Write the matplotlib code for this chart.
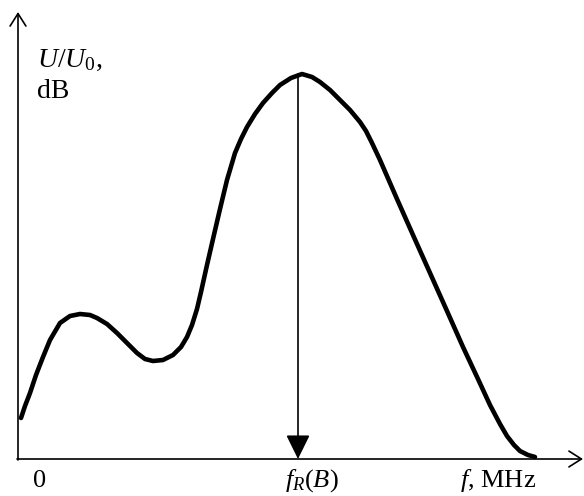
import matplotlib
matplotlib.use("Agg")
import matplotlib.pyplot as plt

plt.rcParams["font.family"] = ["Liberation Serif", "DejaVu Serif"]
plt.rcParams["mathtext.fontset"] = "custom"
plt.rcParams["mathtext.rm"] = "Liberation Serif"
plt.rcParams["mathtext.it"] = "Liberation Serif:italic"

# кривая U/U0 (произвольные единицы)
freq = [3, 7, 12, 18, 25, 32, 42, 52, 62, 72, 79, 89, 99, 109, 119, 127, 135,
        145, 155, 163, 169, 174, 179, 183, 189, 195, 202, 209, 217, 223, 229,
        237, 245, 254, 262, 273, 284, 294, 302, 312, 322, 332, 342, 348, 354,
        362, 379, 395, 412, 429, 445, 460, 472, 482, 489, 496, 502, 510, 517]
level = [41, 53, 66, 84, 102, 119, 136, 143, 145, 144, 141, 135, 126, 116,
         106, 100, 98, 99, 104, 112, 122, 134, 150, 167, 194, 220, 250, 279,
         306, 320, 332, 345, 356, 366, 374, 381, 385, 382, 377, 369, 359, 349,
         337, 328, 316, 299, 260, 224, 186, 148, 112, 80, 54, 35, 23, 14, 8,
         4, 2]

f_res = 280        # положение f_R(B)
f_max = 565        # конец оси f
u_max = 447        # конец оси U

fig = plt.figure(figsize=(5.84, 4.96), dpi=100)
ax = fig.add_axes([0, 0, 1, 1])
ax.set_xlim(-18, 566)
ax.set_ylim(-37, 459)
ax.axis("off")

# оси со стрелками
axis_arrow = dict(arrowstyle="->,head_length=0.6,head_width=0.38",
                  mutation_scale=15, lw=1.2, color="black",
                  shrinkA=0, shrinkB=0)
ax.annotate("", xy=(f_max, 0), xytext=(-1, 0), arrowprops=axis_arrow)
ax.annotate("", xy=(0, u_max), xytext=(0, -1), arrowprops=axis_arrow)

# кривая
ax.plot(freq, level, color="black", lw=3.3, solid_capstyle="round",
        solid_joinstyle="round")

# стрелка от максимума к оси
ax.annotate("", xy=(f_res, 0), xytext=(f_res, max(level)),
            arrowprops=dict(arrowstyle="-|>,head_length=0.75,head_width=0.37",
                            mutation_scale=20, lw=1.2, color="black",
                            shrinkA=0, shrinkB=0))

# подписи
ax.text(19, 392, r"$U/U_0$,", fontsize=20, ha="left", va="baseline")
ax.text(19, 361, "dB", fontsize=20, ha="left", va="baseline")
ax.text(22, -28, "0", fontsize=19, ha="center", va="baseline")
ax.text(f_res - 13, -28, r"$\mathit{f_R(B)}$", fontsize=19, ha="left",
        va="baseline")
ax.text(442, -28, r"$f$, MHz", fontsize=19, ha="left", va="baseline")

fig.savefig("out.png", dpi=100, facecolor="white")
